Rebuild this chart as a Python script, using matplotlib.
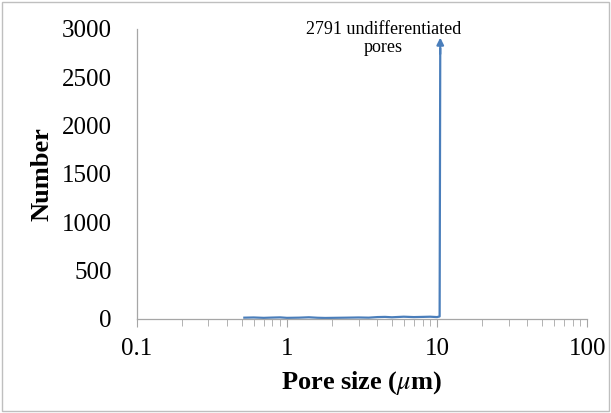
import matplotlib.pyplot as plt
from matplotlib.patches import Rectangle

# pore size distribution
pore_size = [0.52, 0.6, 0.7, 0.8, 0.9, 1.0, 1.2, 1.4, 1.6, 1.8, 2.0, 2.5, 3.0,
             3.5, 4.0, 4.5, 5.0, 6.0, 7.0, 8.0, 9.0, 10.0, 10.4, 10.5]
number = [12, 14, 10, 13, 15, 10, 12, 16, 11, 9, 10, 12, 14, 12, 18, 20,
          16, 22, 18, 20, 22, 18, 25, 2791]
x_ticks = [0.1, 1, 10, 100]
x_tick_labels = ['0.1', '1', '10', '100']
y_ticks = [0, 500, 1000, 1500, 2000, 2500, 3000]

plt.rcParams['font.family'] = ['Liberation Serif', 'DejaVu Serif']
plt.rcParams['mathtext.fontset'] = 'stix'

fig = plt.figure(figsize=(6.11, 4.13), dpi=100)
ax = fig.add_axes([0.224, 0.228, 0.737, 0.702])

line_color = '#4a7ebb'
ax.plot(pore_size, number, color=line_color, lw=1.6)
ax.annotate('', xy=(pore_size[-1], 2910), xytext=(pore_size[-1], number[-1] - 50),
            arrowprops=dict(arrowstyle='-|>', color=line_color, lw=1.6,
                            mutation_scale=10, shrinkA=0, shrinkB=0))
ax.text(4.4, 3085, '2791 undifferentiated\npores', ha='center',
        va='top', fontsize=13, linespacing=1.1, clip_on=False)

ax.set_xscale('log')
ax.set_xlim(0.1, 100)
ax.set_ylim(0, 3000)
ax.set_xticks(x_ticks)
ax.set_xticklabels(x_tick_labels)
ax.set_yticks(y_ticks)

for s in ['top', 'right']:
    ax.spines[s].set_visible(False)
for s in ['left', 'bottom']:
    ax.spines[s].set_color('#a6a6a6')
    ax.spines[s].set_linewidth(0.9)

ax.tick_params(axis='x', which='major', length=6, color='#a6a6a6', direction='out', labelsize=18, pad=8)
ax.tick_params(axis='x', which='minor', length=5, color='#a6a6a6', direction='out')
ax.tick_params(axis='y', length=0, labelsize=18, pad=18)

ax.set_xlabel(r'Pore size ($\mu$m)', fontsize=19, fontweight='bold', labelpad=6)
ax.set_ylabel('Number', fontsize=19, fontweight='bold', labelpad=6)

fig.patches.append(Rectangle((0.003, 0.005), 0.994, 0.99, transform=fig.transFigure,
                             fill=False, edgecolor='#bfbfbf', lw=1))

fig.savefig('out.png', dpi=100)
